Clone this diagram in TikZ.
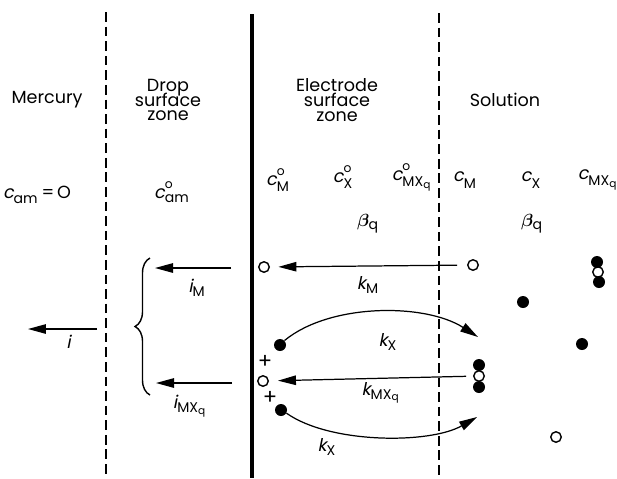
\documentclass[tikz,border=0pt]{standalone}
\usepackage{fontspec}
\setmainfont{Poppins}
\newfontfamily\slantfont[FakeSlant=0.2]{Poppins}
\usepackage{amsmath}
\usepackage{bm}
\usetikzlibrary{arrows.meta,decorations.pathreplacing}
\newcommand{\concsym}[2]{$\mbox{\slantfont c}^{\mbox{\raisebox{2pt}{\scriptsize #2}}}_{\mbox{\footnotesize #1}}$}
\newcommand{\ratesym}[2]{$\mbox{\slantfont #1}_{\mbox{\footnotesize #2}}$}
\newcommand{\cplx}{MX\textsubscript{q}}
\tikzset{
  zoneline/.style={line width=1.1pt,dash pattern=on 5.5pt off 2.8pt},
  wall/.style={line width=2.8pt},
  flux/.style={line width=0.7pt,-{Triangle[length=3.6mm,width=1.9mm]}},
  ion/.style={circle,draw,line width=0.8pt,inner sep=0pt,minimum size=2.1mm},
  lig/.style={circle,fill,inner sep=0pt,minimum size=2.4mm},
  zonetxt/.style={align=center,font=\normalsize,inner sep=0pt}
}

\begin{document}
\begin{tikzpicture}[x=0.02cm,y=-0.02cm]
\useasboundingbox (0,0) rectangle (617,478);
\draw[zoneline] (106,12) -- (106,478);
\draw[wall] (252,14) -- (252,478);
\draw[zoneline] (439,13) -- (439,478);
\node[zonetxt] (mercury) at (47,100) {Mercury};
\node[zonetxt] (drop) at (168,100) {Drop\\[-3.5pt]surface\\[-3.5pt]zone};
\node[zonetxt] (elec) at (337,100) {Electrode\\[-3.5pt]surface\\[-3.5pt]zone};
\node[zonetxt] (soln) at (505,100) {Solution};
\node[zonetxt] (cam) at (37,195) {\concsym{am}{}\,=\,O};
\node[zonetxt] (camo) at (172,192) {\concsym{am}{o}};
\node[zonetxt] (cMo) at (278,180) {\concsym{M}{o}};
\node[zonetxt] (cXo) at (343,177) {\concsym{X}{o}};
\node[zonetxt] (cMXo) at (412,177) {\concsym{\cplx}{o}};
\node[zonetxt] (cM) at (465,180) {\concsym{M}{}};
\node[zonetxt] (cX) at (531,180) {\concsym{X}{}};
\node[zonetxt] (cMX) at (598,180) {\concsym{\cplx}{}};
\node[zonetxt] (betaE) at (368,224) {$\bm{\beta}_{\mbox{\footnotesize q}}$};
\node[zonetxt] (betaS) at (532,224) {$\bm{\beta}_{\mbox{\footnotesize q}}$};
% electrode surface species
\node[ion] (eM) at (264,267) {};
\node[lig] (eXa) at (280,345) {};
\node[zonetxt,font=\large] (plusA) at (265,362) {+};
\node[ion] (eMX) at (263,381) {};
\node[zonetxt,font=\large] (plusB) at (270,398) {+};
\node[lig] (eXb) at (281,410) {};
% solution species
\node[ion] (sM) at (473,265) {};
\node[lig] (sXa) at (479,365) {};
\node[ion] (sMX) at (479,376) {};
\node[lig] (sXb) at (479,387) {};
\node[lig] (fXa) at (597,262) {};
\node[ion] (fMX) at (598,272) {};
\node[lig] (fXb) at (599,282) {};
\node[lig] (fX) at (523,302) {};
\node[lig] (gX) at (582,344) {};
\node[ion] (gM) at (556,437) {};
% fluxes
\draw[flux,shorten <=2mm,shorten >=1.7mm] (sM) -- (eM);
\node[zonetxt] (kM) at (368,285) {\ratesym{k}{M}};
\coordinate (kXend) at (478,337);
\draw[flux] (eXa.45) .. controls (330,303) and (425,303) .. (kXend);
\node[zonetxt] (kXa) at (388,342) {\ratesym{k}{X}};
\draw[flux,shorten <=1.4mm,shorten >=1.8mm] (sMX) -- (eMX);
\node[zonetxt] (kMX) at (381,393) {\ratesym{k}{\cplx}};
\coordinate (kXendb) at (477,417);
\draw[flux] (eXb.-30) .. controls (330,444) and (430,444) .. (kXendb);
\node[zonetxt] (kXb) at (327,447) {\ratesym{k}{X}};
% currents
\coordinate (iMa) at (231,268);
\coordinate (iMb) at (155,268);
\draw[flux] (iMa) -- (iMb);
\node[zonetxt] (iM) at (197,288) {\ratesym{i}{M}};
\coordinate (iMXa) at (232,383);
\coordinate (iMXb) at (156,383);
\draw[flux] (iMXa) -- (iMXb);
\node[zonetxt] (iMX) at (190,406) {\ratesym{i}{\cplx}};
\coordinate (braceB) at (150,395);
\coordinate (braceT) at (150,258);
\draw[line width=0.8pt,decorate,decoration={brace,amplitude=3mm}] (braceB) -- (braceT);
\coordinate (ia) at (97,329);
\coordinate (ib) at (28,329);
\draw[flux] (ia) -- (ib);
\node[zonetxt] (itot) at (69,343) {\ratesym{i}{}};
\end{tikzpicture}
\end{document}
